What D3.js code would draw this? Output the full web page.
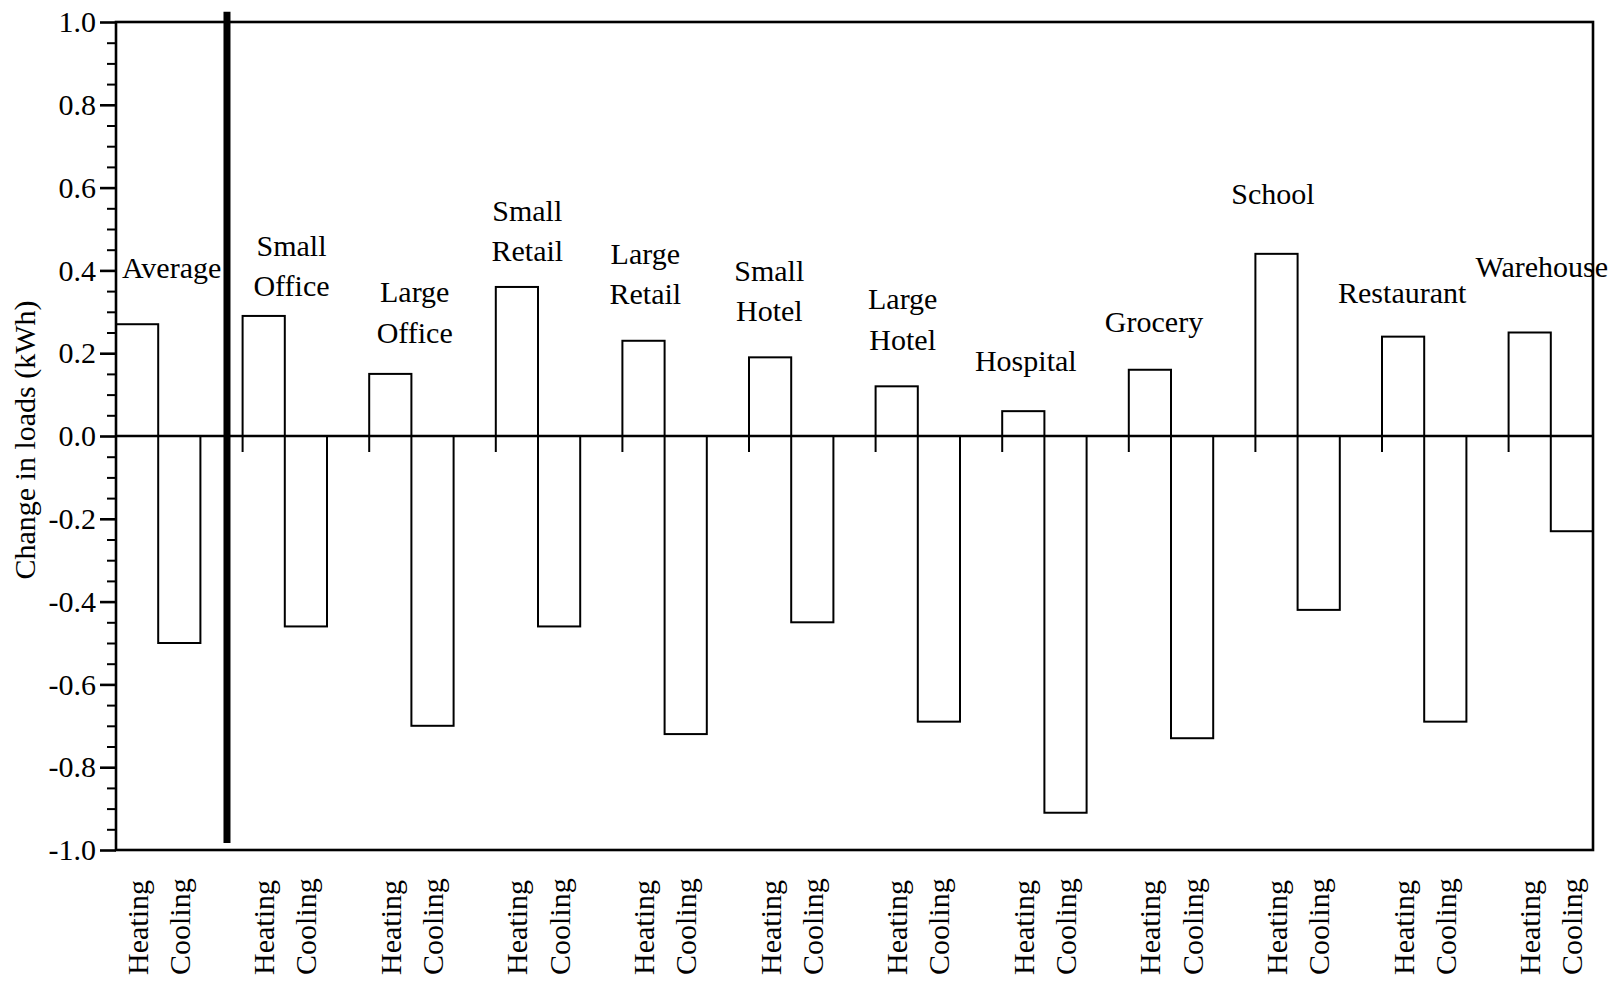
<!DOCTYPE html>
<html>
<head>
<meta charset="utf-8">
<script src="https://cdn.jsdelivr.net/npm/d3@7/dist/d3.min.js"></script>
<style>
  html, body { margin: 0; padding: 0; background: #fff; }
  svg { display: block; }
  text { font-family: "Liberation Serif", "Times New Roman", serif; fill: #000; }
</style>
</head>
<body>
<svg id="chart" width="1621" height="982"></svg>
<script>
// Building types, one group of bars each
const categories = [
  "Average", "Small Office", "Large Office", "Small Retail", "Large Retail",
  "Small Hotel", "Large Hotel", "Hospital", "Grocery", "School",
  "Restaurant", "Warehouse"
];
// Change in heating and cooling loads (kWh)
const heating = [0.27, 0.29, 0.15, 0.36, 0.23, 0.19, 0.12, 0.06, 0.16, 0.44, 0.24, 0.25];
const cooling = [-0.50, -0.46, -0.70, -0.46, -0.72, -0.45, -0.69, -0.91, -0.73, -0.42, -0.69, -0.23];
const series = ["Heating", "Cooling"];
const yTicks = [-1.0, -0.8, -0.6, -0.4, -0.2, 0.0, 0.2, 0.4, 0.6, 0.8, 1.0];
const yMinorTicks = [-0.95, -0.9, -0.85, -0.75, -0.7, -0.65, -0.55, -0.5, -0.45, -0.35, -0.3, -0.25,
  -0.15, -0.1, -0.05, 0.05, 0.1, 0.15, 0.25, 0.3, 0.35, 0.45, 0.5, 0.55, 0.65, 0.7, 0.75, 0.85, 0.9, 0.95];
const yTitle = "Change in loads (kWh)";

(function draw() {
  // ---- layout ----
  const plotL = 116, plotT = 22, plotR = 1593, plotB = 850;
  const slot = (plotR - plotL) / 35;            // each group: heating, cooling, gap
  const fontSize = 30;

  const svg = d3.select("#chart");

  const x = d3.scaleBand()
    .domain(categories)
    .range([plotL, plotL + categories.length * 3 * slot])
    .paddingInner(0).paddingOuter(0);

  const xSub = d3.scaleBand()
    .domain(series)
    .range([0, 2 * slot])
    .paddingInner(0).paddingOuter(0);

  const y = d3.scaleLinear().domain([-1, 1]).range([plotB, plotT]);

  const rows = categories.map((c, i) => ({ cat: c, Heating: heating[i], Cooling: cooling[i] }));

  // ---- bars ----
  const gBars = svg.append("g");
  rows.forEach(r => {
    series.forEach(s => {
      const v = r[s];
      gBars.append("rect")
        .attr("x", x(r.cat) + xSub(s))
        .attr("width", xSub.bandwidth())
        .attr("y", Math.min(y(v), y(0)))
        .attr("height", Math.abs(y(v) - y(0)))
        .attr("fill", "#fff")
        .attr("stroke", "#000")
        .attr("stroke-width", 2);
    });
  });

  // group tick marks hanging below the zero line
  svg.append("g").selectAll("line")
    .data(categories)
    .join("line")
    .attr("x1", d => x(d)).attr("x2", d => x(d))
    .attr("y1", y(0)).attr("y2", y(0) + 16)
    .attr("stroke", "#000").attr("stroke-width", 2);

  // ---- frame ----
  svg.append("rect")
    .attr("x", plotL).attr("y", plotT)
    .attr("width", plotR - plotL).attr("height", plotB - plotT)
    .attr("fill", "none").attr("stroke", "#000").attr("stroke-width", 2.6);

  // zero line
  svg.append("line")
    .attr("x1", plotL).attr("x2", plotR)
    .attr("y1", y(0)).attr("y2", y(0))
    .attr("stroke", "#000").attr("stroke-width", 2.6);

  // heavy divider between the average and the individual building types
  const sepX = x(categories[1]) - 0.37 * slot;
  svg.append("line")
    .attr("x1", sepX).attr("x2", sepX)
    .attr("y1", y(1.025)).attr("y2", y(-0.983))
    .attr("stroke", "#000").attr("stroke-width", 7);

  // ---- y axis ----
  const fmt = d => d.toFixed(1);
  const yAxis = svg.append("g")
    .attr("transform", `translate(${plotL},0)`)
    .call(d3.axisLeft(y).tickValues(yTicks).tickFormat(fmt).tickSize(16).tickPadding(4));
  yAxis.select(".domain").remove();
  yAxis.selectAll(".tick line").attr("stroke", "#000").attr("stroke-width", 2.6);
  yAxis.selectAll(".tick text")
    .attr("font-size", fontSize)
    .attr("font-family", "Liberation Serif, Times New Roman, serif")
    .attr("fill", "#000");

  const yMinor = svg.append("g")
    .attr("transform", `translate(${plotL},0)`)
    .call(d3.axisLeft(y).tickValues(yMinorTicks).tickFormat("").tickSize(9));
  yMinor.select(".domain").remove();
  yMinor.selectAll(".tick line").attr("stroke", "#000").attr("stroke-width", 2);

  svg.append("text")
    .attr("transform", "translate(35, 440) rotate(-90)")
    .attr("text-anchor", "middle")
    .attr("font-size", fontSize)
    .text(yTitle);

  // ---- series labels under each bar ----
  rows.forEach(r => {
    series.forEach(s => {
      const cx = x(r.cat) + xSub(s) + xSub.bandwidth() / 2;
      svg.append("text")
        .attr("transform", `translate(${cx}, 975) rotate(-90)`)
        .attr("text-anchor", "start")
        .attr("dy", "0.35em")
        .attr("font-size", fontSize)
        .text(s);
    });
  });

  // ---- building-type labels above the bars ----
  // horizontal offset from group start (px) and level of the last line (kWh units)
  const labelPlacement = [
    [55.6, 0.406], [48.9, 0.361], [45.5, 0.249], [31.5, 0.446],
    [22.9, 0.342], [20.3, 0.301], [27.1, 0.232], [23.6, 0.182],
    [25.2, 0.274], [17.6, 0.584], [20.2, 0.346], [33.2, 0.409]
  ];
  const lineGap = 40.4;
  categories.forEach((c, i) => {
    const lines = c.split(" ");
    const [dx, level] = labelPlacement[i];
    const t = svg.append("text")
      .attr("text-anchor", "middle")
      .attr("font-size", fontSize);
    lines.forEach((ln, j) => {
      t.append("tspan")
        .attr("x", x(c) + dx)
        .attr("y", y(level) - (lines.length - 1 - j) * lineGap)
        .attr("dy", "0.33em")
        .text(ln);
    });
  });
})();
</script>
</body>
</html>
